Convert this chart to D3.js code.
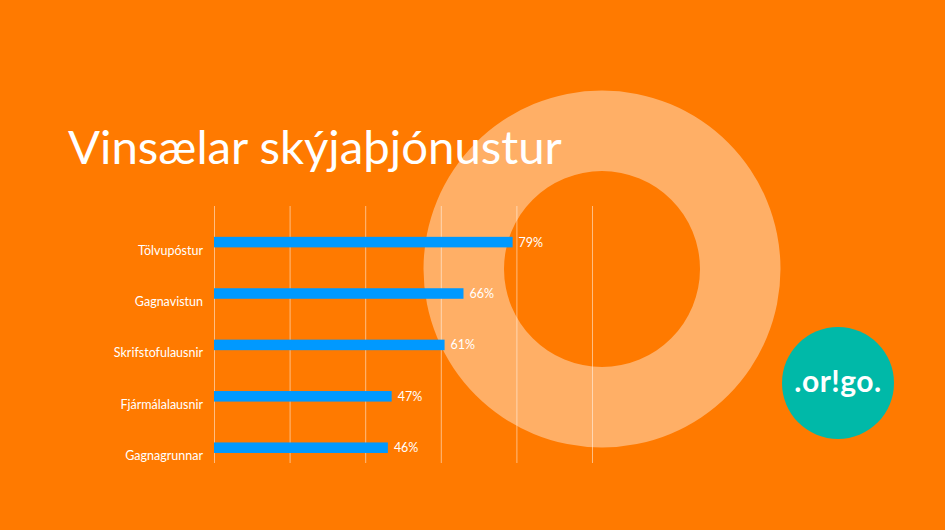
<!DOCTYPE html>
<html>
<head>
<meta charset="utf-8">
<script src="https://cdn.jsdelivr.net/npm/d3@7"></script>
<style>
  html, body { margin: 0; padding: 0; background: #FF7A00; }
  svg { display: block; }
</style>
</head>
<body>
<svg id="chart" width="945" height="530"></svg>
<script>
const title = "Vinsælar skýjaþjónustur";
const categories = ["Tölvupóstur", "Gagnavistun", "Skrifstofulausnir", "Fjármálalausnir", "Gagnagrunnar"];
const values = [0.79, 0.66, 0.61, 0.47, 0.46];
const tickValues = [0, 0.2, 0.4, 0.6, 0.8, 1.0];
const logoText = ".or!go.";

const W = 945, H = 530;
const svg = d3.select("#chart");
const font = "Lato, 'Open Sans', sans-serif";

// background
svg.append("rect").attr("width", W).attr("height", H).attr("fill", "#FF7A00");

// decorative ring
const ringArc = d3.arc().innerRadius(98).outerRadius(178.5).startAngle(0).endAngle(2 * Math.PI);
svg.append("path").attr("d", ringArc()).attr("transform", "translate(602,269)").attr("fill", "#FFAF66");

// logo
const logo = svg.append("g").attr("transform", "translate(838,383)");
logo.append("circle").attr("r", 56).attr("fill", "#00B9A8");
logo.append("text").text(logoText)
  .attr("text-anchor", "middle").attr("y", 9)
  .attr("font-family", font).attr("font-weight", 700).attr("font-size", 30)
  .attr("letter-spacing", 0.5)
  .attr("fill", "#fff");

// title
const t = svg.append("text").text(title)
  .attr("x", 68).attr("y", 164)
  .attr("font-family", font).attr("font-size", 48).attr("fill", "#fff");
const tl = t.node().getComputedTextLength();
t.attr("font-size", 48 * 494 / tl);

// scales
const x = d3.scaleLinear().domain([0, 1]).range([214, 592]);
const y = d3.scaleBand().domain(categories).range([206, 463]);
const step = y.step();

// grid
const grid = svg.append("g").attr("transform", "translate(0,206)")
  .call(d3.axisBottom(x).tickValues(tickValues).tickSize(257).tickFormat(""));
grid.select(".domain").remove();
grid.selectAll(".tick line").attr("stroke", "#fff").attr("stroke-opacity", 0.5).attr("stroke-width", 1);

// bars
const barH = step * 0.205;
const barOff = step * 0.6;
svg.append("g").selectAll("rect").data(categories).join("rect")
  .attr("x", x(0))
  .attr("y", d => y(d) + barOff)
  .attr("width", (d, i) => x(values[i]) - x(0))
  .attr("height", barH)
  .attr("fill", "#0099FF");

// value labels
svg.append("g").selectAll("text").data(categories).join("text")
  .attr("x", (d, i) => x(values[i]) + 6)
  .attr("y", d => y(d) + barOff + barH / 2 + 4.5)
  .attr("font-family", font).attr("font-size", 12.5).attr("fill", "#fff")
  .text((d, i) => d3.format(".0%")(values[i]));

// category labels
svg.append("g").selectAll("text").data(categories).join("text")
  .attr("x", 203)
  .attr("y", d => y(d) + barOff + barH / 2 + 12.5)
  .attr("text-anchor", "end")
  .attr("font-family", font).attr("font-size", 12.5).attr("fill", "#fff")
  .text(d => d);
</script>
</body>
</html>
